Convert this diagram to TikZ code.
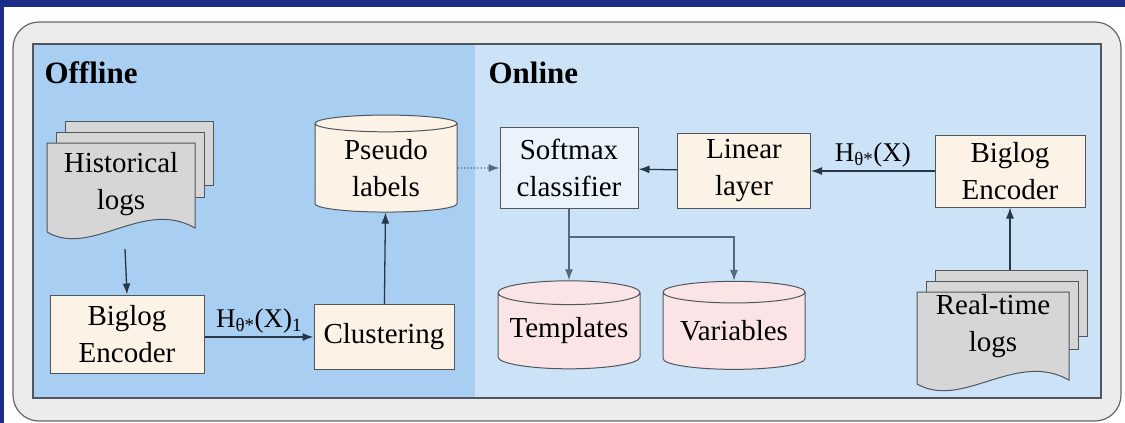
\documentclass[tikz,border=0pt]{standalone}
\usepackage{fontspec}
\setmainfont{Liberation Serif}
\usetikzlibrary{shapes.geometric,positioning,arrows.meta}

\definecolor{frameblue}{RGB}{27,45,135}
\definecolor{outergray}{RGB}{236,236,236}
\definecolor{offblue}{RGB}{168,207,242}
\definecolor{onblue}{RGB}{204,227,247}
\definecolor{beige}{RGB}{253,242,230}
\definecolor{softblue}{RGB}{234,243,252}
\definecolor{pinkish}{RGB}{251,228,229}
\definecolor{docgray}{RGB}{214,214,214}
\definecolor{edgecol}{RGB}{80,86,92}
\definecolor{arrowcol}{RGB}{40,55,72}
\definecolor{branchcol}{RGB}{85,105,125}

\tikzset{
  txt/.style={align=center, font=\fontsize{29}{37}\selectfont},
  proc/.style={txt, draw=edgecol, line width=1pt, inner sep=0pt},
  store/.style={txt, cylinder, shape border rotate=90, aspect=0.2, draw=edgecol,
    line width=1pt, fill=pinkish, inner sep=0pt},
  flow/.style={draw=arrowcol, line width=1.3pt, -{Latex[length=11pt,width=8pt]}},
  doc/.style={draw=edgecol, line width=1pt, fill=docgray},
  part/.style={anchor=west, font=\fontsize{31}{34}\selectfont\bfseries},
  hlabel/.style={above, font=\fontsize{27}{30}\selectfont},
}

% stack of log pages: top left x, y, width, height
\newcommand{\logstack}[4]{
  \draw[doc] (#1+18,#2-22) rectangle (#1+18+#3,#2-22+0.72*#4);
  \draw[doc] (#1+9,#2-11) rectangle (#1+9+#3,#2-11+0.74*#4);
  \draw[doc] (#1,#2) -- (#1+#3,#2) -- (#1+#3,#2+#4-4)
    .. controls (#1+0.65*#3,#2+#4-34) and (#1+0.3*#3,#2+#4+26) .. (#1,#2+#4) -- cycle;
}

\begin{document}
\begin{tikzpicture}[x=1pt, y=-1pt]
  \useasboundingbox (0,0) rectangle (1125,423);
  % frame
  \fill[frameblue] (0,0) rectangle (1125,423);
  \fill[white] (4,7) rectangle (1125,423);
  \draw[draw=gray!80!black, fill=outergray, line width=1.2pt, rounded corners=26pt]
    (13,22) rectangle (1121,421);
  % panels
  \fill[offblue] (33,44) rectangle (475,398);
  \fill[onblue] (475,44) rectangle (1101,398);
  \draw[edgecol, line width=1.2pt] (33,44) rectangle (1101,398);
  \node[part] (offl) at (41,73) {Offline};
  \node[part] (onl) at (485,73) {Online};

  % offline part
  \logstack{47}{143}{148}{89}
  \node[txt] (hist) at (121,184) {Historical\\logs};
  \coordinate (histbot) at (125,249);
  \node[proc, fill=beige, minimum width=154, minimum height=78] (enc1) at (127,334) {Biglog\\Encoder};
  \node[proc, fill=beige, minimum width=140, minimum height=65] (clus) at (384,337) {Clustering};
  \node[store, fill=beige, minimum width=142, minimum height=97] (pseudo) at (386,168) {Pseudo\\labels};

  \draw[flow] (histbot) -- (enc1.north);
  \draw[flow] (enc1.east |- clus.west) -- node[hlabel] {H\textsubscript{θ*}(X)\textsubscript{1}} (clus.west);
  \draw[flow] (clus) -- (pseudo);

  % online part
  \node[proc, fill=softblue, minimum width=138, minimum height=81] (soft) at (569,168) {Softmax\\classifier};
  \node[proc, fill=beige, minimum width=133, minimum height=75] (lin) at (744,171) {Linear\\layer};
  \node[proc, fill=beige, minimum width=150, minimum height=72] (enc2) at (1010,171) {Biglog\\Encoder};
  \logstack{917}{292}{152}{92}
  \node[txt] (real) at (993,326) {Real-time\\logs};
  \coordinate (realtop) at (1010,270);
  \node[store, minimum width=142, minimum height=88] (tmpl) at (569,331) {Templates};
  \node[store, minimum width=142, minimum height=88] (vars) at (734,331) {Variables};

  \draw[flow, branchcol, dotted] (pseudo) -- (soft);
  \draw[flow] (enc2) -- node[hlabel] {H\textsubscript{θ*}(X)} (lin);
  \draw[flow] (lin) -- (soft);
  \draw[flow] (realtop) -- (enc2.south);
  \draw[flow, branchcol] (soft.south) -- (tmpl.north);
  \draw[flow, branchcol] (soft.south) ++(0,28) -| (vars.north);
\end{tikzpicture}
\end{document}
